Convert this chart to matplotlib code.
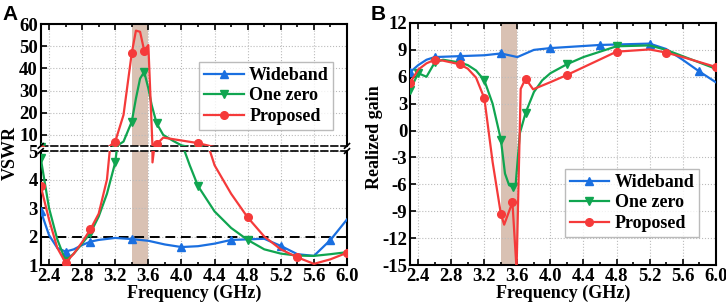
import matplotlib
matplotlib.use('Agg')
import matplotlib.pyplot as plt

plt.rcParams['font.family'] = 'Liberation Serif'
plt.rcParams['font.weight'] = 'bold'
plt.rcParams['axes.labelweight'] = 'bold'
plt.rcParams['font.size'] = 12

blue = '#1a6fe0'
green = '#10a550'
red = '#f53a3a'
shade = '#d9c1b3'

labels = ['Wideband', 'One zero', 'Proposed']

# VSWR (panel A)
f_wb_a = [2.3, 2.4, 2.5, 2.6, 2.7, 2.8, 2.9, 3.0, 3.2, 3.4, 3.6, 3.8, 4.0, 4.2, 4.4,
          4.6, 4.8, 5.0, 5.2, 5.4, 5.6, 5.8, 6.0]
v_wb_a = [2.9, 2.05, 1.6, 1.47, 1.55, 1.7, 1.82, 1.88, 1.95, 1.91, 1.85, 1.72, 1.63,
          1.66, 1.75, 1.88, 1.9, 1.92, 1.67, 1.38, 1.32, 1.88, 2.6]
f_oz_a = [2.3, 2.4, 2.5, 2.6, 2.7, 2.8, 2.9, 3.0, 3.1, 3.2, 3.3, 3.4, 3.45, 3.5, 3.55,
          3.6, 3.64, 3.7, 3.78, 3.9, 4.0, 4.1, 4.2, 4.4, 4.6, 4.8, 5.0, 5.2, 5.4, 5.6,
          5.8, 6.0]
v_oz_a = [4.75, 3.0, 1.9, 1.15, 1.4, 1.75, 2.12, 2.7, 3.5, 4.6, 7.0, 16, 26.4, 35.4, 38.4,
          31, 23.5, 15.2, 10, 7.3, 5.3, 4.5, 3.77, 2.88, 2.3, 1.88, 1.55, 1.4, 1.33, 1.32,
          1.38, 1.45]
f_pr_a = [2.3, 2.4, 2.5, 2.6, 2.7, 2.8, 2.9, 3.0, 3.1, 3.2, 3.3, 3.4, 3.45, 3.5, 3.55,
          3.6, 3.65, 3.7, 3.78, 4.2, 4.3, 4.4, 4.6, 4.8, 5.0, 5.2, 5.4, 5.6, 5.8, 6.0]
v_pr_a = [3.77, 2.6, 1.6, 1.08, 1.4, 1.8, 2.25, 2.8, 4.0, 7, 19, 47, 57, 56.5, 48,
          50.5, 4.6, 5.8, 8.8, 6.3, 5.4, 4.5, 3.5, 2.67, 2.0, 1.55, 1.27, 1.04, 1.2, 1.43]
mk_wb_a = [2.3, 2.6, 2.9, 3.4, 4.0, 4.6, 5.2, 5.8]
mk_oz_a = [2.3, 2.6, 2.9, 3.2, 3.4, 3.55, 3.7, 4.2, 4.8]
mk_pr_a = [2.3, 2.6, 2.9, 3.2, 3.4, 3.55, 3.7, 4.2, 4.8, 5.4, 6.0]

# Realized gain (panel B)
f_wb_b = [2.3, 2.4, 2.5, 2.6, 2.9, 3.2, 3.4, 3.6, 3.8, 4.0, 4.6, 5.2, 5.4, 5.6, 5.8, 6.0]
v_wb_b = [6.5, 7.3, 7.9, 8.2, 8.3, 8.4, 8.6, 8.2, 9.0, 9.2, 9.55, 9.7, 9.1, 7.9, 6.6, 5.4]
f_oz_b = [2.3, 2.4, 2.5, 2.6, 2.7, 2.9, 3.0, 3.1, 3.2, 3.3, 3.4, 3.45, 3.5, 3.55, 3.58,
          3.63, 3.7, 3.8, 3.9, 4.0, 4.2, 4.4, 4.8, 5.2, 5.4, 5.6, 6.0]
v_oz_b = [4.5, 6.4, 6.0, 7.6, 7.9, 7.6, 7.3, 6.7, 5.6, 3.0, -1.0, -4.8, -6.1, -6.3, -5.9,
          -0.3, 2.0, 4.3, 5.6, 6.4, 7.4, 8.2, 9.4, 9.5, 9.0, 8.3, 6.9]
f_pr_b = [2.3, 2.4, 2.5, 2.6, 2.7, 2.9, 3.0, 3.1, 3.2, 3.3, 3.4, 3.44, 3.54, 3.59, 3.64,
          3.7, 3.79, 4.0, 4.2, 4.8, 5.2, 5.4, 5.6, 6.0]
v_pr_b = [5.3, 6.8, 7.5, 7.9, 7.8, 7.4, 6.9, 5.9, 3.6, -3.5, -9.3, -10.5, -8.0, -15.5, 4.65,
          5.8, 4.6, 5.4, 6.2, 8.8, 9.05, 8.7, 8.2, 7.1]
mk_wb_b = [2.3, 2.6, 2.9, 3.4, 4.0, 4.6, 5.2, 5.8]
mk_oz_b = [2.3, 2.4, 2.6, 3.2, 3.4, 3.55, 3.7, 4.2, 4.8]
mk_pr_b = [2.3, 2.6, 2.9, 3.2, 3.4, 3.54, 3.7, 4.2, 4.8, 5.4, 6.0]

xticks = [2.4, 2.8, 3.2, 3.6, 4.0, 4.4, 4.8, 5.2, 5.6, 6.0]
minor_x = [2.4 + 0.2 * i for i in range(19)]
yticks_up = [10, 20, 30, 40, 50, 60]
yticks_lo = [1, 2, 3, 4, 5]
yticks_b = [-15, -12, -9, -6, -3, 0, 3, 6, 9, 12]
band = (3.4, 3.6)
TS = 13.5


def idx(f, marks):
    return [min(range(len(f)), key=lambda i: abs(f[i] - m)) for m in marks]


series_a = [(f_wb_a, v_wb_a, mk_wb_a, blue, '^'),
            (f_oz_a, v_oz_a, mk_oz_a, green, 'v'),
            (f_pr_a, v_pr_a, mk_pr_a, red, 'o')]
series_b = [(f_wb_b, v_wb_b, mk_wb_b, blue, '^'),
            (f_oz_b, v_oz_b, mk_oz_b, green, 'v'),
            (f_pr_b, v_pr_b, mk_pr_b, red, 'o')]

fig = plt.figure(figsize=(7.26, 3.07), dpi=100)
ax_up = fig.add_axes([0.0561, 0.5244, 0.4219, 0.3974])
ax_lo = fig.add_axes([0.0561, 0.1368, 0.4219, 0.3713])
ax_b = fig.add_axes([0.5647, 0.1368, 0.4211, 0.7883])


def style(ax, yt):
    ax.set_xlim(2.3, 6.0)
    ax.set_xticks(xticks, labels=['%.1f' % x for x in xticks], fontsize=TS,
                  fontweight='bold')
    ax.set_xticks(minor_x, minor=True)
    ax.set_yticks(yt, labels=['%d' % y for y in yt], fontsize=TS, fontweight='bold')
    ax.tick_params(direction='in', top=True, which='both', width=1.2, pad=2)
    ax.tick_params(which='major', length=4)
    ax.tick_params(which='minor', length=2.5)
    ax.grid(True, linestyle=':', color='#bbbbbb', linewidth=0.8)
    for s in ax.spines.values():
        s.set_linewidth(1.5)
    ax.axvspan(*band, color=shade, lw=0, zorder=1)


handles = []
for ax, yt in ((ax_up, yticks_up), (ax_lo, yticks_lo)):
    style(ax, yt)
    for f, v, mk, c, m in series_a:
        ln, = ax.plot(f, v, color=c, lw=1.6, marker=m, ms=5.5, markevery=idx(f, mk),
                      zorder=3)
        if ax is ax_up:
            handles.append(ln)

ax_up.set_ylim(5, 60)
ax_up.tick_params(labelbottom=False, bottom=False, which='both')
ax_up.spines['bottom'].set_linestyle((0, (4, 2)))
ax_up.spines['bottom'].set_linewidth(1.2)

ax_lo.set_ylim(1, 5)
ax_lo.tick_params(top=False, which='both')
ax_lo.spines['top'].set_linestyle((0, (4, 2)))
ax_lo.spines['top'].set_linewidth(1.2)
ax_lo.axhline(2, color='black', lw=1.4, ls=(0, (5, 3)), zorder=2)
ax_lo.set_xlabel('Frequency (GHz)', fontsize=13, labelpad=0)

# break marks
for xa in (0, 1):
    for dy in (0.0, 0.045):
        ax_lo.plot([xa - 0.008, xa + 0.008], [1.0 + dy - 0.02, 1.0 + dy + 0.02],
                   transform=ax_lo.transAxes, color='black', lw=1.2, clip_on=False)

ax_up.legend(handles, labels, loc='upper right', bbox_to_anchor=(0.985, 0.76),
             prop={'size': 13, 'weight': 'bold'}, frameon=True, fancybox=False,
             edgecolor='#aaaaaa', numpoints=1, handlelength=2.2, borderpad=0.25,
             labelspacing=0.2, handletextpad=0.3)

fig.text(0.014, 0.5, 'VSWR', rotation=90, ha='center', va='center', fontsize=13,
         weight='bold')
fig.text(0.004, 0.985, 'A', family='Liberation Sans', fontsize=15, weight='bold',
         ha='left', va='top')
fig.text(0.511, 0.985, 'B', family='Liberation Sans', fontsize=15, weight='bold',
         ha='left', va='top')

style(ax_b, yticks_b)
hb = []
for f, v, mk, c, m in series_b:
    ln, = ax_b.plot(f, v, color=c, lw=1.6, marker=m, ms=5.5, markevery=idx(f, mk),
                    zorder=3)
    hb.append(ln)
ax_b.set_ylim(-15, 12)
ax_b.set_xlabel('Frequency (GHz)', fontsize=13, labelpad=0)
ax_b.set_ylabel('Realized gain', fontsize=13)
ax_b.yaxis.set_label_coords(-0.088, 0.53)
ax_b.legend(hb, labels, loc='lower right', bbox_to_anchor=(0.975, 0.08),
            prop={'size': 13, 'weight': 'bold'}, frameon=True, fancybox=False,
            edgecolor='#aaaaaa', numpoints=1, handlelength=2.2, borderpad=0.25,
            labelspacing=0.2, handletextpad=0.3)

fig.savefig('out.png', dpi=100)
